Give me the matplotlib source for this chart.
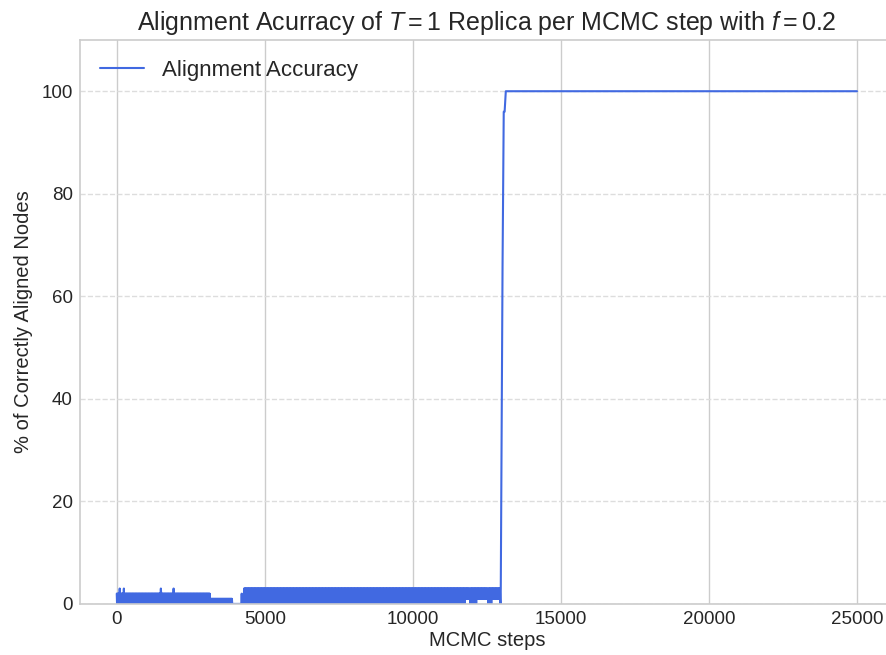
import numpy as np
import matplotlib
matplotlib.use("Agg")
import matplotlib.pyplot as plt

# Values (MCMC step, % correctly aligned nodes)

# stretches where the accuracy flickers between a low and a high value
band_start = [0, 3150, 3900, 4300, 11760, 11930, 12150, 12540, 12660]
band_end = [3150, 3900, 4300, 11760, 11930, 12150, 12540, 12660, 12960]
band_low = [0, 0, 0, 0, 1, 0, 1, 0, 1]
band_high = [2, 1, 0, 3, 3, 3, 3, 3, 3]

# single spikes on top of the flicker
spike_steps = [100, 240, 1490, 1920, 4220]
spike_values = [3, 3, 3, 3, 2]

# the jump to full alignment and the plateau after it
rise_steps = [12970, 13000, 13030, 13070, 13100, 13140, 25000]
rise_values = [3, 35, 66, 96, 96, 100, 100]

# build the series
steps = np.arange(0, 12970, 10)
acc = np.zeros(len(steps))
for s, e, lo, hi in zip(band_start, band_end, band_low, band_high):
    idx = np.where((steps >= s) & (steps < e))[0]
    acc[idx] = np.where(np.arange(len(idx)) % 2 == 0, hi, lo)
for s, v in zip(spike_steps, spike_values):
    acc[np.argmin(abs(steps - s))] = v
steps = np.concatenate([steps, rise_steps])
acc = np.concatenate([acc, rise_values])

plt.style.use("seaborn-v0_8-whitegrid")
plt.rcParams["font.family"] = ["Liberation Sans", "DejaVu Sans"]
plt.rcParams["mathtext.fontset"] = "custom"
plt.rcParams["mathtext.rm"] = "Liberation Sans"
plt.rcParams["mathtext.it"] = "Liberation Sans:italic"

fig = plt.figure(figsize=(8.86, 6.55), dpi=100)
ax = fig.add_axes([0.090, 0.078, 0.919, 0.861])

ax.plot(steps, acc, color="royalblue", lw=1.5, label="Alignment Accuracy")

ax.set_xlim(-1250, 26250)
ax.set_ylim(0, 110)
ax.set_xticks([0, 5000, 10000, 15000, 20000, 25000])
ax.set_yticks([0, 20, 40, 60, 80, 100])
ax.yaxis.grid(True, linestyle="--", color="#dddddd", lw=1.0)
ax.xaxis.grid(True, linestyle="-", color="#cccccc", lw=1.0)
ax.tick_params(labelsize=13.5, colors="#262626", pad=5)
for sp in ax.spines.values():
    sp.set_visible(True)
    sp.set_color("#cccccc")
    sp.set_linewidth(1.2)

ax.set_title("Alignment Acurracy of $T = 1$ Replica per MCMC step with $f = 0.2$",
             fontsize=18, color="#262626", pad=7)
ax.set_xlabel("MCMC steps", fontsize=14.5, color="#262626", labelpad=2)
ax.set_ylabel("% of Correctly Aligned Nodes", fontsize=14.5, color="#262626",
              labelpad=6)
ax.legend(loc="upper left", fontsize=16, frameon=False,
          bbox_to_anchor=(0.0, 1.0))

fig.savefig("out.png", dpi=100)
